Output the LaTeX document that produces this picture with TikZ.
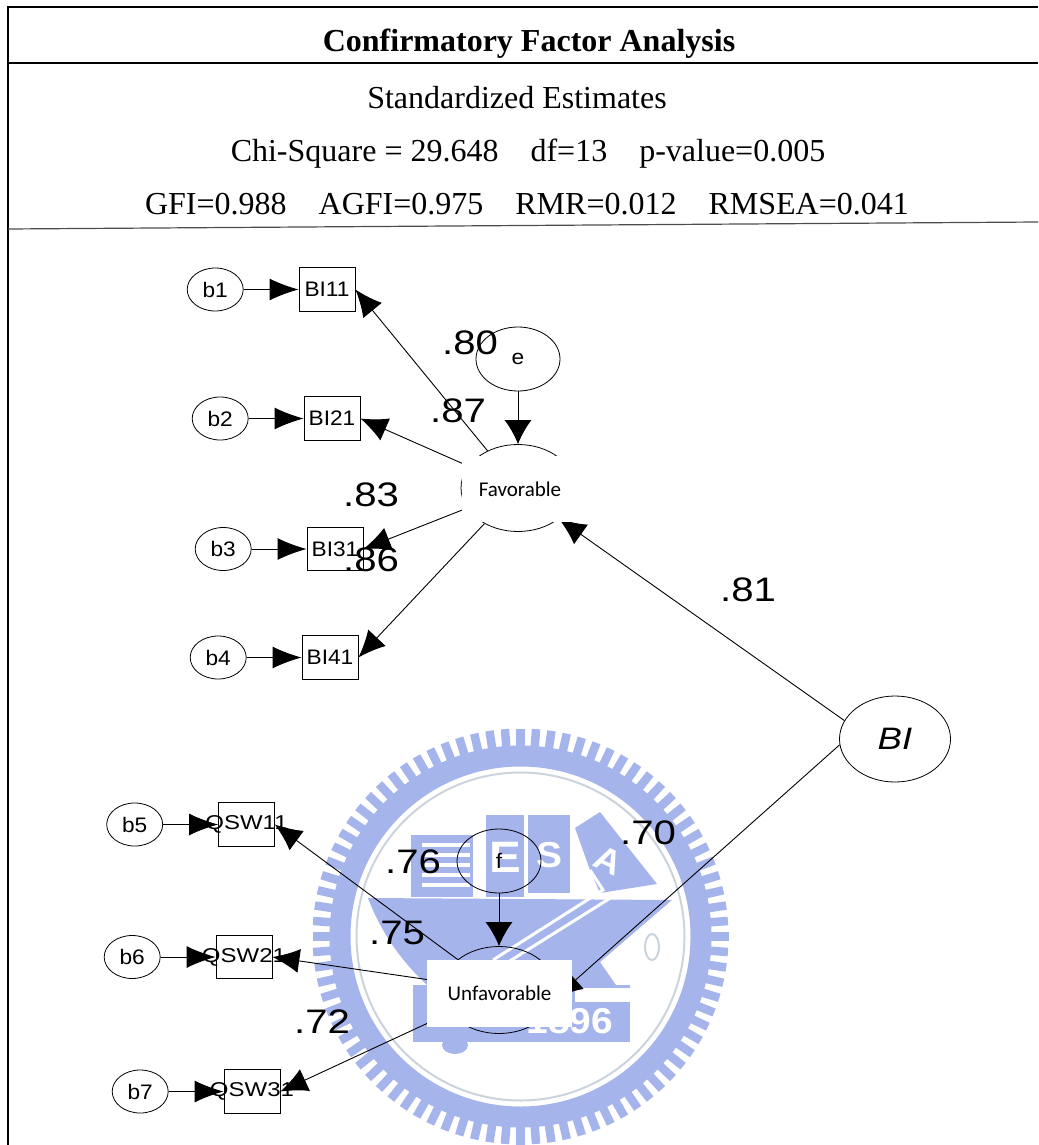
\documentclass[tikz,border=0pt]{standalone}
\usepackage{fontspec}
\setmainfont{Liberation Serif}
\newfontfamily\upperfont[FakeStretch=1.08]{Liberation Sans}
\newfontfamily\lowerfont[FakeStretch=1.2]{Liberation Sans}
\newfontfamily\coeffont[FakeStretch=1.18]{Liberation Sans}
\newfontfamily\boxfont{Carlito}
\usetikzlibrary{positioning,shapes.geometric,arrows.meta}
\definecolor{sealblue}{HTML}{A6B4EC}
\definecolor{sealring}{HTML}{CBD3DC}
\tikzset{
  head/.style={font=\fontsize{32}{32}\selectfont, inner sep=0pt},
  obs/.style={draw, line width=0.8pt, rectangle, inner sep=0pt, minimum width=56pt, minimum height=43.5pt,
    font=\upperfont\fontsize{21}{21}\selectfont},
  err/.style={draw, line width=0.8pt, ellipse, inner sep=0pt, minimum width=56pt, minimum height=43pt,
    font=\upperfont\fontsize{21}{21}\selectfont},
  latent/.style={draw, line width=0.8pt, ellipse, inner sep=0pt, minimum width=114pt, minimum height=87pt},
  dist/.style={draw, line width=0.8pt, ellipse, inner sep=0pt, minimum width=84pt, minimum height=64pt,
    font=\upperfont\fontsize{21}{21}\selectfont},
  cover/.style={fill=white, inner sep=0pt, font=\boxfont\fontsize{21}{21}\selectfont},
  coef/.style={inner sep=0pt, font=\coeffont\fontsize{34}{34}\selectfont},
  rule/.style={line width=2.6pt},
  hlink/.style={line width=0.9pt, -{Latex[length=29pt,width=22pt]}},
  vlink/.style={line width=0.9pt, -{Latex[length=24pt,width=27pt]}},
  link/.style={line width=0.9pt, -{Latex[length=27pt,width=24pt]}},
  sealtext/.style={white, inner sep=0pt},
}

\begin{document}
\begin{tikzpicture}[x=1pt,y=-1pt]
\useasboundingbox (0,0) rectangle (1038,1145);

% ===== seal behind the paths =====
\coordinate (seal) at (520.5,936.5);
\begin{scope}
\clip (0,0) rectangle (1038,1145);
\foreach \t [evaluate=\t as \a using \t*4.2857] in {1,...,84}
  { \draw[sealblue,line width=8.5pt] (seal) ++(\a:185pt) -- ++(\a:23pt); }
\draw[sealblue,line width=21pt] (seal) circle[radius=180.5pt];
\draw[sealring,line width=2pt] (seal) circle[radius=164pt];
\end{scope}
\fill[sealblue] (368,898) -- (672,900) -- (600,962) -- (618,988) -- (427,985)
  .. controls (400,960) and (380,930) .. cycle;
\fill[sealblue] (413,985) rectangle (630,1042);
\fill[white] (575,988) rectangle (630,1002);
\fill[sealblue] (411,835) rectangle (473,897);
\foreach \y in {845,855,865,875,885}
  { \draw[white,line width=4pt] (422,\y) -- (470,\y); }
\fill[sealblue] (486,815) rectangle (524,897);
\fill[sealblue] (528,815) rectangle (570,893);
\fill[sealblue] (575,828) -- (600,812) -- (657,884) -- (600,893) -- (590,870) -- cycle;
\draw[white,line width=3pt] (493,960) -- (603,890) -- (590,870);
\draw[white,line width=3pt] (505,964) -- (612,897);
\fill[sealblue] (455,1045) ellipse[x radius=13pt, y radius=9pt];
\draw[sealring,line width=2pt] (652,947) ellipse[x radius=7pt, y radius=13pt];
\node[sealtext, font=\upperfont\bfseries\fontsize{44}{44}\selectfont] (sealE) at (505,857) {E};
\node[sealtext, font=\upperfont\bfseries\fontsize{36}{36}\selectfont] (sealS) at (549,855) {S};
\node[sealtext, font=\upperfont\bfseries\fontsize{34}{34}\selectfont, rotate=-25] (sealA) at (608,860) {A};
\node[sealtext, font=\upperfont\bfseries\fontsize{36}{36}\selectfont] (sealY) at (570,1021) {1896};

% ===== frame and heading =====
\coordinate (tl) at (8,7);
\draw[rule] (1038,7) -- (tl) -- (8,1145);
\draw[rule] (8,63) -- (1038,63);
\draw[line width=1.2pt,black!70] (8,229) -- (1038,222);
\node[head, font=\bfseries\fontsize{32}{32}\selectfont] (title) at (529,44) {Confirmatory Factor Analysis};
\node[head] (std) at (517,98) {Standardized Estimates};
\node[head] (chi) at (528,154) {Chi-Square = 29.648\quad df=13\quad p-value=0.005};
\node[head] (gfi) at (527,204) {GFI=0.988\quad AGFI=0.975\quad RMR=0.012\quad RMSEA=0.041};

% ===== upper factor =====
\node[obs] (bi11) at (327,289.5) {BI11};
\node[obs] (bi21) at (332,418.5) {BI21};
\node[obs] (bi31) at (335,549) {BI31};
\node[obs] (bi41) at (330,657.5) {BI41};
\node[err, left=55pt of bi11] (b1) {b1};
\node[err, left=55pt of bi21] (b2) {b2};
\node[err, left=55pt of bi31] (b3) {b3};
\node[err, left=55pt of bi41] (b4) {b4};
\node[latent] (fav) at (518,488) {};
\node[dist] (e) at (518,359) {e};
\node[draw, line width=0.8pt, ellipse, inner sep=0pt, minimum width=111pt, minimum height=86pt,
  font=\coeffont\fontsize{31}{31}\selectfont\itshape] (bi) at (895,739) {BI};

% ===== lower factor =====
\node[obs, font=\lowerfont\fontsize{20}{20}\selectfont] (qsw11) at (246.5,824.5) {\makebox[0pt]{QSW11}};
\node[obs, font=\lowerfont\fontsize{20}{20}\selectfont] (qsw21) at (244,957) {\makebox[0pt]{QSW21}};
\node[obs, font=\lowerfont\fontsize{20}{20}\selectfont] (qsw31) at (252,1091.5) {\makebox[0pt]{QSW31}};
\node[err, left=55pt of qsw11] (b5) {b5};
\node[err, left=55pt of qsw21] (b6) {b6};
\node[err, left=55pt of qsw31] (b7) {b7};
\node[latent] (unfav) at (499,990) {};
\node[dist] (f) at (499,861) {f};

% ===== paths =====
\foreach \s/\t in {b1/bi11, b2/bi21, b3/bi31, b4/bi41, b5/qsw11, b6/qsw21, b7/qsw31}
  { \draw[hlink] (\s) -- (\t); }
\foreach \t in {bi11, bi21, bi31, bi41}
  { \draw[link] (fav) -- (\t.east); }
\foreach \t in {qsw11, qsw21, qsw31}
  { \draw[link] (unfav) -- (\t.east); }
\draw[vlink] (e) -- (fav);
\draw[vlink] (f) -- (unfav);
\draw[link] (bi.160) -- (fav.-37);
\draw[link] (bi.186) -- (unfav.-8);

% white text boxes sit over the factors
\node[cover, minimum width=116pt, minimum height=66pt] (favbox) at (520,489) {Favorable};
\node[cover, minimum width=145pt, minimum height=67pt] (unfavbox) at (499.5,993.5) {Unfavorable};

% ===== estimates =====
\node[coef] (c80) at (470,343) {.80};
\node[coef] (c87) at (458,411) {.87};
\node[coef] (c83) at (371,495) {.83};
\node[coef] (c86) at (371,560) {.86};
\node[coef] (c81) at (748,590) {.81};
\node[coef] (c76) at (413,862) {.76};
\node[coef] (c75) at (397,933) {.75};
\node[coef] (c72) at (322,1022) {.72};
\node[coef] (c70) at (648,833) {.70};

\end{tikzpicture}
\end{document}
